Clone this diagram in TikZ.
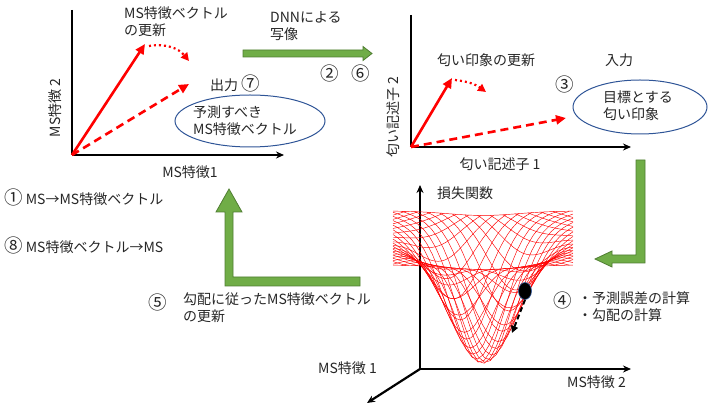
\documentclass[tikz,border=0pt]{standalone}
\usepackage{fontspec}
\setmainfont{Noto Sans CJK JP}
\usepackage{tikz}
\usetikzlibrary{arrows.meta,shapes.geometric}
\definecolor{dnngreen}{HTML}{70AD47}
\definecolor{dnngreenline}{HTML}{507E32}
\definecolor{goalblue}{HTML}{2F5597}
\definecolor{txtgray}{HTML}{262626}
\newcommand{\cnum}[1]{{\fontsize{18.5}{17}\selectfont #1}}
\tikzset{
lbl/.style={font=\fontsize{14}{17}\selectfont,text=txtgray,inner sep=0pt,align=left},
axisline/.style={line width=2.2pt,black},
axisarrow/.style={axisline,-{Stealth[length=8pt,width=7pt]}},
vecsolid/.style={line width=2.6pt,red,-{Triangle[length=10pt,width=9pt]}},
vecdash/.style={vecsolid,dash pattern=on 8pt off 5pt},
vecdot/.style={line width=2.2pt,red,dash pattern=on 2pt off 3pt,-{Triangle[length=8pt,width=8pt]}},
goalell/.style={ellipse,draw=goalblue,line width=1pt,inner sep=0pt},
flowshape/.style={fill=dnngreen,draw=dnngreenline,line width=0.8pt,line join=miter},
meshline/.style={red,line width=0.45pt},
ball/.style={ellipse,fill=black,draw=goalblue,line width=0.6pt,minimum width=13pt,minimum height=17pt,inner sep=0pt},
gradarrow/.style={line width=2pt,black,dash pattern=on 5pt off 3pt,-{Triangle[length=7pt,width=7pt]}}
}
\begin{document}
\begin{tikzpicture}[x=1pt,y=-1pt]
\useasboundingbox (0,0) rectangle (710,411);

% MS feature space
\coordinate (o1) at (72,155);
\coordinate (y1top) at (72,10);
\coordinate (x1end) at (284,155);
\draw[axisline] (y1top) -- (o1);
\draw[axisarrow] (o1) -- (x1end);
\coordinate (msnew) at (145,44);
\coordinate (msout) at (189,84);
\coordinate (msdot) at (189,61);
\draw[vecsolid] (o1) -- (msnew);
\draw[vecdash] (o1) -- (msout);
\draw[vecdot] (149,46) to[bend left=30] (msdot);
\node[lbl,anchor=west] (msupd) at (124,22) {MS特徴ベクトル\\の更新};
\node[lbl,anchor=west] (out) at (210,83) {出力 \cnum{⑦}};
\node[goalell,minimum width=150pt,minimum height=52pt] (predict) at (250,121) {};
\node[lbl,anchor=west] (predicttxt) at (193,121) {予測すべき\\MS特徴ベクトル};
\node[lbl,rotate=90] (ms2) at (55,108) {MS特徴 2};
\node[lbl] (ms1) at (190,172) {MS特徴1};

% DNN
\node[lbl,anchor=west] (dnn) at (270,26) {DNNによる\\写像};
\filldraw[flowshape] (243,50) -- (363,50) -- (363,46.5) -- (372,53.5) -- (363,60.5) -- (363,57) -- (243,57) -- cycle;
\node[lbl] (s2) at (330,73) {\cnum{②}};
\node[lbl] (s6) at (361,73) {\cnum{⑥}};

% odour space
\coordinate (o2) at (411,147);
\coordinate (y2top) at (411,15);
\coordinate (x2end) at (631,147);
\draw[axisline] (y2top) -- (o2);
\draw[axisarrow] (o2) -- (x2end);
\coordinate (odnew) at (452,78);
\coordinate (odgoal) at (566,118);
\coordinate (oddot) at (486,92);
\draw[vecsolid] (o2) -- (odnew);
\draw[vecdash] (o2) -- (odgoal);
\draw[vecdot] (455,80) to[bend left=15] (oddot);
\node[lbl,anchor=west] (odupd) at (437,60) {匂い印象の更新};
\node[lbl,anchor=west] (inp) at (605,60) {入力};
\node[lbl] (s3) at (565,84) {\cnum{③}};
\node[goalell,minimum width=134pt,minimum height=54pt] (target) at (640,107) {};
\node[lbl,anchor=west] (targettxt) at (603,106) {目標とする\\匂い印象};
\node[lbl,rotate=90] (od2) at (393,117) {匂い記述子 2};
\node[lbl] (od1) at (500,164) {匂い記述子 1};

% steps
\node[lbl,anchor=west] (s1) at (4,197) {\cnum{①} MS→MS特徴ベクトル};
\node[lbl,anchor=west] (s8) at (4,245) {\cnum{⑧} MS特徴ベクトル→MS};
\filldraw[flowshape] (636,160) -- (645,160) -- (645,263) -- (612,263) -- (612,267) -- (595,259) -- (612,251) -- (612,255) -- (636,255) -- cycle;
\filldraw[flowshape] (360,277) -- (233,277) -- (233,212) -- (242,212) -- (229,189) -- (216,212) -- (225,212) -- (225,286) -- (360,286) -- cycle;
\node[lbl] (s5) at (158,302) {\cnum{⑤}};
\node[lbl,anchor=west] (updtxt) at (183,308) {勾配に従ったMS特徴ベクトル\\の更新};

% loss surface
\coordinate (o3) at (420,369);
\coordinate (lossend) at (420,185);
\coordinate (f2end) at (631,369);
\coordinate (f1end) at (367,403);
\draw[axisarrow] (o3) -- (lossend);
\draw[axisarrow] (o3) -- (f2end);
\draw[axisarrow] (o3) -- (f1end);
\foreach \c in {-1.86,-1.72,...,1.9}{
  \pgfmathsetmacro\ua{max(-1,\c-1)}
  \pgfmathsetmacro\ub{min(1,\c+1)}
  \draw[meshline] plot[domain=\ua:\ub,samples=30,variable=\u] ({483+90*\u},{238+27*(\c-\u)+125*exp(-(\u*\u+(\c-\u)*(\c-\u))/0.3)});
  \draw[meshline] plot[domain=\ua:\ub,samples=30,variable=\u] ({483+90*\u},{238+27*(\u-\c)+125*exp(-(\u*\u+(\u-\c)*(\u-\c))/0.3)});
}
\draw[meshline] plot[domain=-1:1,samples=40,variable=\u] ({483+90*\u},{211+125*exp(-(\u*\u+1)/0.3)});
\draw[meshline] plot[domain=-1:1,samples=40,variable=\u] ({483+90*\u},{265+125*exp(-(\u*\u+1)/0.3)});
\node[ball] (ball) at (525,291) {};
\coordinate (gradend) at (512,333);
\draw[gradarrow] (ball.south) -- (gradend);
\node[lbl,anchor=west] (loss) at (437,193) {損失関数};
\node[lbl,anchor=west] (f2) at (567,382) {MS特徴 2};
\node[lbl,anchor=west] (f1) at (318,368) {MS特徴 1};
\node[lbl] (s4) at (563,300) {\cnum{④}};
\node[lbl,anchor=west] (calc) at (578,307) {・予測誤差の計算\\・勾配の計算};
\end{tikzpicture}
\end{document}
